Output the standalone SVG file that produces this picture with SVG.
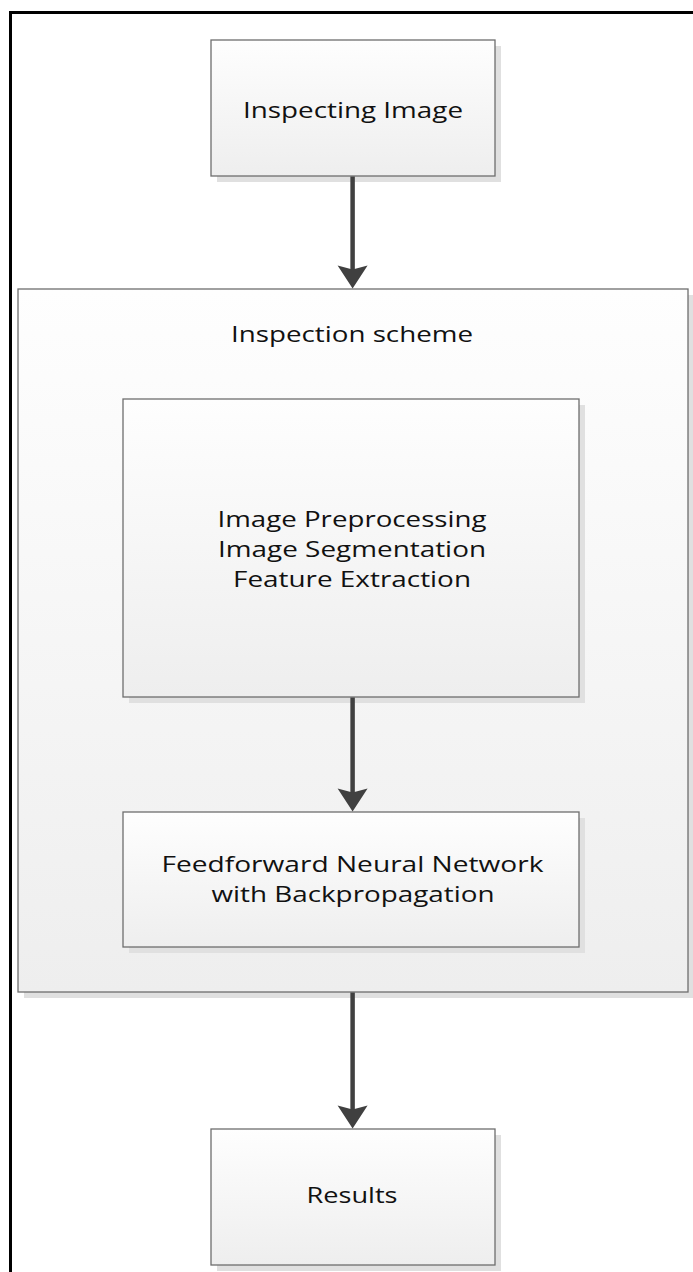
<svg xmlns="http://www.w3.org/2000/svg" width="693" height="1272" viewBox="0 0 693 1272">
  <style>
    .box { stroke: #6e6e6e; stroke-width: 1.3; fill: url(#g); }
    .shadow { fill: #e0e0e0; }
    .lbl { font-family: "Open Sans", "Liberation Sans", sans-serif; font-size: 22px; fill: #111; text-anchor: middle; }
    .conn { stroke: #404040; stroke-width: 4.5; fill: none; }
    .head { fill: #404040; }
  </style>
  <defs>
    <linearGradient id="g" x1="0" y1="0" x2="0" y2="1">
      <stop offset="0" stop-color="#fefefe"/>
      <stop offset="1" stop-color="#eeeeee"/>
    </linearGradient>
  </defs>
  <rect width="693" height="1272" fill="#ffffff"/>
  <rect id="frame" x="10.5" y="12.5" width="720" height="1300" fill="none" stroke="#000" stroke-width="3"/>

  <g id="inspecting-image">
    <rect class="shadow" x="217" y="46" width="284" height="136"/>
    <rect class="box" x="211" y="40" width="284" height="136"/>
    <text class="lbl" x="353" y="118" textLength="220" lengthAdjust="spacingAndGlyphs">Inspecting Image</text>
  </g>

  <g id="inspection-scheme">
    <rect class="shadow" x="24" y="295" width="670" height="703"/>
    <rect class="box" x="18" y="289" width="670" height="703"/>
    <text class="lbl" x="352" y="341.5" textLength="242" lengthAdjust="spacingAndGlyphs">Inspection scheme</text>
  </g>

  <g id="preprocessing">
    <rect class="shadow" x="129" y="405" width="456" height="298"/>
    <rect class="box" x="123" y="399" width="456" height="298"/>
    <text class="lbl" x="352" y="526.5" textLength="269" lengthAdjust="spacingAndGlyphs">Image Preprocessing</text>
    <text class="lbl" x="352" y="556.5" textLength="268" lengthAdjust="spacingAndGlyphs">Image Segmentation</text>
    <text class="lbl" x="352" y="586.5" textLength="238" lengthAdjust="spacingAndGlyphs">Feature Extraction</text>
  </g>

  <g id="ffnn">
    <rect class="shadow" x="129" y="818" width="456" height="135"/>
    <rect class="box" x="123" y="812" width="456" height="135"/>
    <text class="lbl" x="352.5" y="871.5" textLength="382" lengthAdjust="spacingAndGlyphs">Feedforward Neural Network</text>
    <text class="lbl" x="353" y="901.5" textLength="283" lengthAdjust="spacingAndGlyphs">with Backpropagation</text>
  </g>

  <g id="results">
    <rect class="shadow" x="217" y="1135" width="284" height="136"/>
    <rect class="box" x="211" y="1129" width="284" height="136"/>
    <text class="lbl" x="352" y="1203.3" textLength="91" lengthAdjust="spacingAndGlyphs">Results</text>
  </g>

  <g id="connectors">
    <line class="conn" x1="352.6" y1="176.5" x2="352.6" y2="272"/>
    <path class="head" d="M352.6,288.5 L337.6,265.5 L352.6,269.5 L367.6,265.5 Z"/>
    <line class="conn" x1="352.6" y1="697.5" x2="352.6" y2="794"/>
    <path class="head" d="M352.6,811.5 L337.6,788.5 L352.6,792.5 L367.6,788.5 Z"/>
    <line class="conn" x1="352.6" y1="992.5" x2="352.6" y2="1112"/>
    <path class="head" d="M352.6,1128.5 L337.6,1105.5 L352.6,1109.5 L367.6,1105.5 Z"/>
  </g>
</svg>
